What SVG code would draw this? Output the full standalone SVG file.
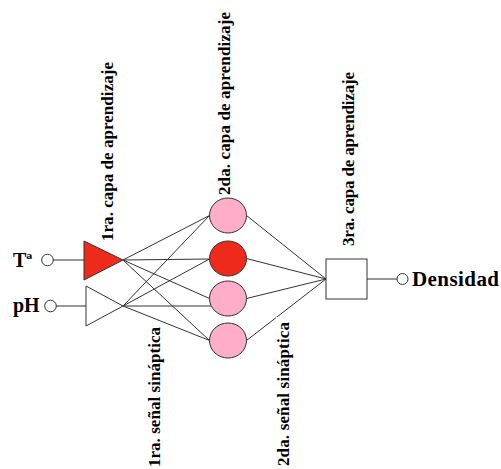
<svg xmlns="http://www.w3.org/2000/svg" width="501" height="469" viewBox="0 0 501 469">
<style>
.lbl{font-family:"Liberation Serif","Times New Roman",serif;font-weight:bold;fill:#000}
.io{font-size:20px}
.rot{font-size:17px}
.ln{stroke:#333;stroke-width:1;fill:none}
.pin{fill:#fff;stroke:#333;stroke-width:1}
.pink{fill:#FFAEC9;stroke:#333;stroke-width:1}
.red{fill:#EE2A1B;stroke:#333;stroke-width:1}
</style>
<rect width="501" height="469" fill="#fff"/>
<g id="connectors">
  <line class="ln" x1="53" y1="260" x2="84" y2="260"/>
  <line class="ln" x1="56" y1="306" x2="86" y2="306"/>
  <line class="ln" x1="123" y1="260" x2="209.5" y2="215.5"/>
  <line class="ln" x1="123" y1="260" x2="209.5" y2="259"/>
  <line class="ln" x1="123" y1="260" x2="209.5" y2="298.5"/>
  <line class="ln" x1="123" y1="260" x2="209.5" y2="340.5"/>
  <line class="ln" x1="123" y1="306" x2="209.5" y2="215.5"/>
  <line class="ln" x1="123" y1="306" x2="209.5" y2="259"/>
  <line class="ln" x1="123" y1="306" x2="211" y2="306"/>
  <line class="ln" x1="123" y1="306" x2="209.5" y2="340.5"/>
  <line class="ln" x1="246.5" y1="215.5" x2="326" y2="279"/>
  <line class="ln" x1="246.5" y1="258.5" x2="326" y2="279"/>
  <line class="ln" x1="246.5" y1="298.5" x2="326" y2="279"/>
  <line class="ln" x1="246.5" y1="340.5" x2="326" y2="279"/>
  <line class="ln" x1="367" y1="279" x2="397" y2="279"/>
</g>
<g id="in-temp">
  <text class="lbl io" x="13" y="267" font-size="21">Tª</text>
  <circle class="pin" cx="47.5" cy="260" r="5.8"/>
</g>
<g id="in-ph">
  <text class="lbl io" x="13" y="312">pH</text>
  <circle class="pin" cx="50.5" cy="306" r="5.8"/>
</g>
<g id="l1-temp">
  <polygon class="red" points="84,241 84,280 123,260"/>
</g>
<g id="l1-ph">
  <polygon class="pin" points="86,286 86,326 123,306"/>
</g>
<g id="l2-n1"><ellipse class="pink" cx="228" cy="215.5" rx="18.5" ry="17.5"/></g>
<g id="l2-n2"><ellipse class="red" cx="228" cy="258.5" rx="18.5" ry="17.5"/></g>
<g id="l2-n3"><ellipse class="pink" cx="228" cy="298.5" rx="18.5" ry="17.5"/></g>
<g id="l2-n4"><ellipse class="pink" cx="228" cy="340.5" rx="18.5" ry="17.5"/></g>
<g id="l3">
  <rect class="pin" x="326" y="259" width="41" height="40"/>
</g>
<g id="out">
  <circle class="pin" cx="402.5" cy="279" r="5.5"/>
  <text class="lbl" font-size="21" x="412" y="286" textLength="87" lengthAdjust="spacing">Densidad</text>
</g>
<g id="labels">
  <text class="lbl rot" transform="translate(113.3,241) rotate(-90)" textLength="179" lengthAdjust="spacing">1ra. capa de aprendizaje</text>
  <text class="lbl rot" transform="translate(230,195) rotate(-90)" textLength="183" lengthAdjust="spacing">2da. capa de aprendizaje</text>
  <text class="lbl rot" transform="translate(353.5,246) rotate(-90)" textLength="174" lengthAdjust="spacing">3ra. capa de aprendizaje</text>
  <text class="lbl rot" transform="translate(160,467) rotate(-90)" textLength="140" lengthAdjust="spacing">1ra. señal sináptica</text>
  <rect x="276" y="317" width="17" height="150" fill="#fff"/>
  <text class="lbl rot" transform="translate(288.5,466) rotate(-90)" textLength="144" lengthAdjust="spacing">2da. señal sináptica</text>
</g>
</svg>
